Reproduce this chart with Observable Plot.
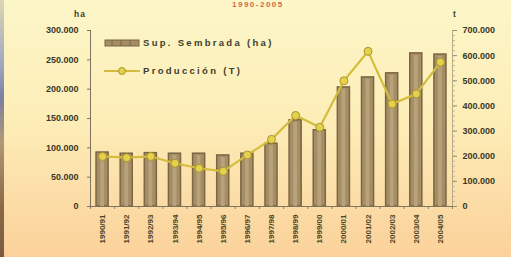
<!DOCTYPE html>
<html>
<head>
<meta charset="utf-8">
<script src="https://cdn.jsdelivr.net/npm/d3@7"></script>
<script src="https://cdn.jsdelivr.net/npm/@observablehq/plot@0.6"></script>
<style>
  html, body { margin: 0; padding: 0; }
  #wrap {
    position: relative; width: 511px; height: 257px; overflow: hidden;
    background: linear-gradient(to bottom, #fcf6c8 0%, #fdeeb8 45%, #fcdea8 75%, #fbd19a 100%);
    font-family: "Liberation Sans", Arial, sans-serif;
  }
  #strip {
    position: absolute; left: 0; top: 0; width: 4px; height: 257px;
    background: linear-gradient(to bottom, #ddd6b4 0%, #a0a8c0 25%, #7a80a2 38%, #b09878 55%, #8a6a4a 80%, #7b5a3e 100%);
  }
  #chart { position: absolute; left: 0; top: 0; }
  .lbl { position: absolute; font-weight: bold; color: #3f3d2c; white-space: nowrap; }
  #title { left: 232px; top: 1px; font-size: 8px; line-height: 8px; color: #d2674a; letter-spacing: 1.5px; }
  #uha { left: 74px; top: 9px; font-size: 8.5px; letter-spacing: 1px; }
  #ut { left: 453px; top: 9px; font-size: 8.5px; }
  .leg { position: absolute; left: 104px; font-size: 9.5px; font-weight: bold; color: #3f3d2c; letter-spacing: 2.3px; white-space: nowrap; }
  .leg svg { vertical-align: middle; margin-right: 3px; }
</style>
</head>
<body>
<div id="wrap">
  <div id="strip"></div>
  <div id="chart"></div>
  <div class="lbl" id="title">1990-2005</div>
  <div class="lbl" id="uha">ha</div>
  <div class="lbl" id="ut">t</div>
  <div class="leg" style="top:37px"><svg width="36" height="10"><rect x="1" y="2" width="34" height="6" fill="#a58d66" stroke="#7a6644" stroke-width="1"/><line x1="8" y1="2" x2="8" y2="8" stroke="#7a6644"/><line x1="17" y1="2" x2="17" y2="8" stroke="#7a6644"/><line x1="26" y1="2" x2="26" y2="8" stroke="#7a6644"/></svg>Sup. Sembrada (ha)</div>
  <div class="leg" style="top:65px"><svg width="36" height="10"><line x1="0" y1="5" x2="36" y2="5" stroke="#d4bd3c" stroke-width="2"/><circle cx="18" cy="5" r="3.5" fill="#e6d24a" stroke="#a99530"/></svg>Producción (T)</div>
</div>
<script>
const seasons = ["1990/91","1991/92","1992/93","1993/94","1994/95","1995/96","1996/97","1997/98","1998/99","1999/00","2000/01","2001/02","2002/03","2003/04","2004/05"];
const superficie = [92000, 90000, 91000, 90000, 90000, 87000, 90000, 107000, 147000, 130000, 203000, 220000, 227000, 261000, 259000];
const produccion = [199000, 194000, 199000, 172000, 152000, 140000, 205000, 267000, 362000, 315000, 500000, 617000, 408000, 448000, 574000];
const leftTicks = [0, 50000, 100000, 150000, 200000, 250000, 300000];
const rightTicks = [0, 100000, 200000, 300000, 400000, 500000, 600000, 700000];

const ratio = 300000 / 700000;
const fmt = d => d3.format(",")(Math.round(d)).replace(/,/g, ".");
const data = seasons.map((s, i) => ({i, s, sup: superficie[i], prod: produccion[i] * ratio}));
const idx = seasons.map((_, i) => i);
const halfIdx = d3.range(-0.5, seasons.length, 1);

const chart = Plot.plot({
  width: 511,
  height: 257,
  marginLeft: 90,
  marginRight: 59,
  marginTop: 30,
  marginBottom: 51,
  style: {background: "transparent", fontFamily: "Liberation Sans, Arial, sans-serif"},
  x: {type: "linear", domain: [-0.5, seasons.length - 0.5]},
  y: {domain: [0, 300000]},
  marks: [
    Plot.rectY(data, {x1: d => d.i - 0.25, x2: d => d.i + 0.25, y: "sup", fill: "#a58d66", stroke: "#7a6644", strokeWidth: 1.5}),
    Plot.rectY(data, {x1: d => d.i - 0.08, x2: d => d.i + 0.08, y: "sup", fill: "#b8a27a", insetTop: 2}),
    Plot.line(data, {x: "i", y: "prod", stroke: "#d4bd3c", strokeWidth: 2.2}),
    Plot.dot(data, {x: "i", y: "prod", r: 4, fill: "#e6d24a", stroke: "#a99530", strokeWidth: 1}),
    Plot.ruleX([-0.5], {stroke: "#7d7460", strokeWidth: 1}),
    Plot.ruleX([seasons.length - 0.5], {stroke: "#b5aa8a", strokeWidth: 1}),
    Plot.ruleY([0], {stroke: "#7d7460", strokeWidth: 1}),
    Plot.axisY({anchor: "left", ticks: leftTicks, tickSize: 3, tickPadding: 9, tickFormat: fmt, label: null,
      fontSize: 9, fontWeight: "bold", fill: "#3a3828", stroke: "#7d7460", letterSpacing: 1.8}),
    Plot.axisY({anchor: "right", ticks: d3.range(0, 700001, 20000).map(v => v * ratio), tickSize: 2, tickFormat: () => "", label: null, stroke: "#c4b898"}),
    Plot.axisY({anchor: "right", ticks: rightTicks.map(v => v * ratio), tickSize: 4, tickPadding: 6, tickFormat: d => fmt(d / ratio), label: null,
      fontSize: 9, fontWeight: "bold", fill: "#3a3828", stroke: "#9a9075", letterSpacing: 1.8}),
    Plot.axisX({anchor: "bottom", ticks: halfIdx, tickSize: 3, tickFormat: () => "", label: null, stroke: "#8a8068"}),
    Plot.axisX({anchor: "bottom", ticks: idx, tickSize: 0, tickPadding: 8, tickRotate: -90, tickFormat: i => seasons[i], label: null,
      fontSize: 8, fontWeight: "bold", fill: "#4a4628", letterSpacing: 0.5})
  ]
});
document.getElementById("chart").appendChild(chart);
</script>
</body>
</html>
